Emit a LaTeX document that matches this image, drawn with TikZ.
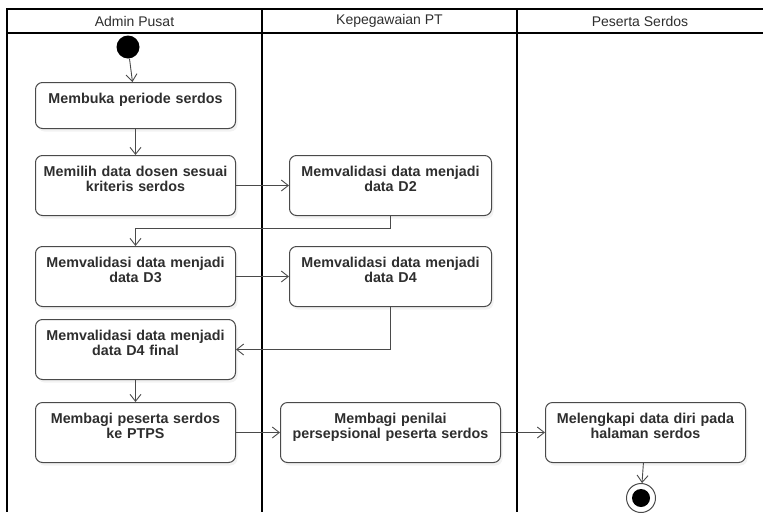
\documentclass[tikz,border=0pt]{standalone}
\usepackage{fontspec}
\setmainfont{Liberation Sans}
\usetikzlibrary{arrows.meta,shadows}
\definecolor{edgegray}{HTML}{4A4A4A}
\definecolor{inkgray}{HTML}{2E2E2E}
\tikzset{
  act/.style={draw=edgegray, line width=1pt, fill=white, rounded corners=7pt, anchor=north west,
    align=center, inner xsep=0pt, inner ysep=10pt, text height=11pt, text=inkgray,
    font=\bfseries\fontsize{14.3}{14.5}\selectfont,
    drop shadow={shadow xshift=2pt, shadow yshift=-3pt, opacity=0.1}},
  oneline/.style={text depth=15pt},
  twoline/.style={text depth=29pt},
  flow/.style={draw=edgegray, line width=0.9pt, -{Straight Barb[length=7pt,width=11pt]}},
  lane/.style={line width=1.5pt},
  lanehead/.style={text=inkgray, font=\fontsize{14}{14}\selectfont},
}
\begin{document}
\begin{tikzpicture}[x=1pt,y=-1pt]
    \useasboundingbox (0,0) rectangle (763,512);

    % lanes
    \draw[lane] (763,9) -- (7,9) -- (7,512);
    \draw[lane] (7,33) -- (763,33);
    \draw[lane] (262,9) -- (262,512);
    \draw[lane] (517,9) -- (517,512);

    \node[lanehead] (admin) at (134.5,21) {Admin Pusat};
    \node[lanehead] (kepeg) at (389.5,21) {Kepegawaian PT};
    \node[lanehead] (peserta) at (640,21) {Peserta Serdos};

    % start and end
    \node[circle, fill=black, minimum size=23pt, inner sep=0pt] (start) at (128,47) {};
    \node[circle, draw=edgegray, fill=white, line width=1pt, minimum size=29pt, inner sep=0pt] (stop) at (641,498) {};
    \fill (stop.center) circle [radius=9pt];

    % activities
    \node[act, oneline, text width=200pt] (buka) at (35,82) {Membuka periode serdos};
    \node[act, twoline, text width=200pt] (pilih) at (35,155) {Memilih data dosen sesuai\\kriteris serdos};
    \node[act, twoline, text width=202pt] (valdua) at (289,155) {Memvalidasi data menjadi\\data D2};
    \node[act, twoline, text width=200pt] (valtiga) at (35,246) {Memvalidasi data menjadi\\data D3};
    \node[act, twoline, text width=202pt] (valempat) at (289,246) {Memvalidasi data menjadi\\data D4};
    \node[act, twoline, text width=200pt] (valfinal) at (35,319) {Memvalidasi data menjadi\\data D4 final};
    \node[act, twoline, text width=200pt] (bagi) at (35,402) {Membagi peserta serdos\\ke PTPS};
    \node[act, twoline, text width=220pt] (nilai) at (280,402) {Membagi penilai\\persepsional peserta serdos};
    \node[act, twoline, text width=200pt] (lengkap) at (545,402) {Melengkapi data diri pada\\halaman serdos};

    % flows
    \draw[flow] (start) -- (buka);
    \draw[flow] (buka) -- (pilih);
    \draw[flow] (pilih) -- (valdua);
    \draw[flow] (valdua.south) -- ++(0,12) -| (valtiga.north);
    \draw[flow] (valtiga) -- (valempat);
    \draw[flow] (valempat.south) |- (valfinal.east);
    \draw[flow] (valfinal) -- (bagi);
    \draw[flow] (bagi) -- (nilai);
    \draw[flow] (nilai) -- (lengkap);
    \draw[flow] (lengkap) -- (stop);
\end{tikzpicture}
\end{document}
